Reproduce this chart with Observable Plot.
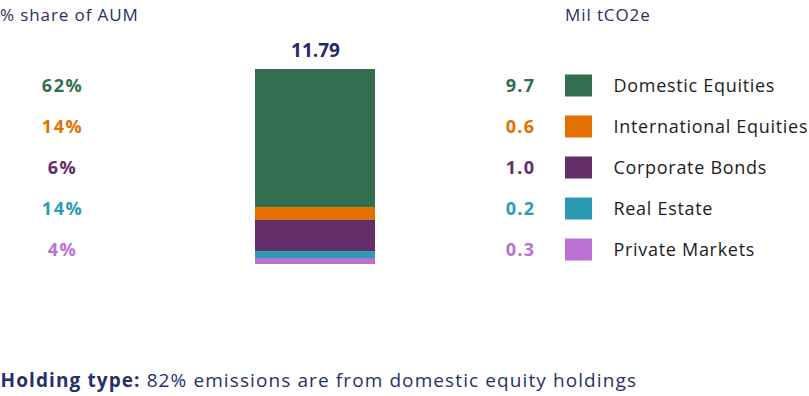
<!DOCTYPE html>
<html>
<head>
<meta charset="utf-8">
<script src="https://cdn.jsdelivr.net/npm/d3@7"></script>
<script src="https://cdn.jsdelivr.net/npm/@observablehq/plot@0.6"></script>
<style>
  html, body { margin: 0; padding: 0; background: #fff; }
  #wrap { position: relative; width: 809px; height: 396px; font-family: "Open Sans", sans-serif; }
  #wrap > svg, #wrap > figure { position: absolute; left: 0; top: 0; margin: 0; }
  .hdr { position: absolute; top: 3px; font-size: 17px; letter-spacing: 0.9px; color: #27306a; white-space: nowrap; }
</style>
</head>
<body>
<div id="wrap">
  <div class="hdr" style="left:0px">% share of AUM</div>
  <div class="hdr" style="left:565px">Mil tCO2e</div>
</div>
<script>
// ---- data ----
const categories = ["Domestic Equities", "International Equities", "Corporate Bonds", "Real Estate", "Private Markets"];
const colors = ["#336e51", "#e37100", "#632d69", "#2b9bb5", "#bb70d5"];
const aumShareLabels = ["62%", "14%", "6%", "14%", "4%"];
const emissionLabels = ["9.7", "0.6", "1.0", "0.2", "0.3"];
// segment heights as drawn in the stacked bar (Mil tCO2e)
const barValues = [8.34, 0.77, 1.89, 0.42, 0.36];
const totalLabel = "11.79";
const captionBold = "Holding type:";
const captionText = " 82% emissions are from domestic equity holdings";

const rows = categories.map((c, i) => ({
  category: c, color: colors[i], share: aumShareLabels[i], emis: emissionLabels[i], value: barValues[i]
}));
const total = d3.sum(barValues);

// layout columns (pixel anchors)
const COL = { share: 62, emis: 520, swatch0: 565, swatch1: 592, label: 613 };

const wrap = document.getElementById("wrap");

// ---- rows: percentages, emission values, legend, caption ----
const rowPlot = Plot.plot({
  width: 809, height: 396,
  margin: 0,
  x: { type: "identity" },
  y: { type: "band", domain: categories, range: [62, 272], axis: null },
  style: { fontFamily: "'Open Sans', sans-serif", background: "transparent" },
  marks: [
    Plot.text(rows, { x: () => COL.share, y: "category", text: "share", fill: "color", fontSize: 18, fontWeight: 700, textAnchor: "middle", className: "ls-share" }),
    Plot.text(rows, { x: () => COL.emis, y: "category", text: "emis", fill: "color", fontSize: 18, fontWeight: 700, textAnchor: "middle", className: "ls-emis" }),
    Plot.barX(rows, { x1: () => COL.swatch0, x2: () => COL.swatch1, y: "category", fill: "color", insetTop: 7.5, insetBottom: 7.5 }),
    Plot.text(rows, { x: () => COL.label, y: "category", text: "category", fill: "#1c1c1c", fontSize: 18, textAnchor: "start", className: "ls-label" }),
    Plot.text([captionBold + captionText], { frameAnchor: "bottom-left", lineAnchor: "bottom", dy: -10, text: d => d, fill: "#27306a", fontSize: 19, textAnchor: "start", className: "cap-text" })
  ]
});
rowPlot.querySelectorAll(".ls-share").forEach(g => g.style.letterSpacing = "1.5px");
rowPlot.querySelectorAll(".ls-emis").forEach(g => g.style.letterSpacing = "1.2px");
rowPlot.querySelectorAll(".ls-label").forEach(g => g.style.letterSpacing = "0.7px");
const capText = rowPlot.querySelector(".cap-text text");
if (capText) {
  capText.textContent = "";
  capText.style.letterSpacing = "1.1px";
  capText.style.whiteSpace = "pre";
  const sel = d3.select(capText);
  sel.append("tspan").attr("font-weight", 700).text(captionBold);
  sel.append("tspan").text(captionText);
}
wrap.appendChild(rowPlot);

// ---- stacked bar ----
const barPlot = Plot.plot({
  width: 809, height: 396,
  margin: 0,
  x: { type: "band", domain: ["AUM"], range: [255, 375], padding: 0, axis: null },
  y: { domain: [0, total], range: [264, 69], axis: null },
  style: { fontFamily: "'Open Sans', sans-serif", background: "transparent" },
  marks: [
    Plot.barY(rows, Plot.stackY({ order: categories.slice().reverse(), x: () => "AUM", y: "value", z: "category", fill: "color", inset: 0 })),
    Plot.text([{ t: totalLabel, v: total }], { x: () => "AUM", y: "v", text: "t", dy: -19, fill: "#1f2a6b", fontSize: 19, fontWeight: 700 })
  ]
});
wrap.appendChild(barPlot);
</script>
</body>
</html>
